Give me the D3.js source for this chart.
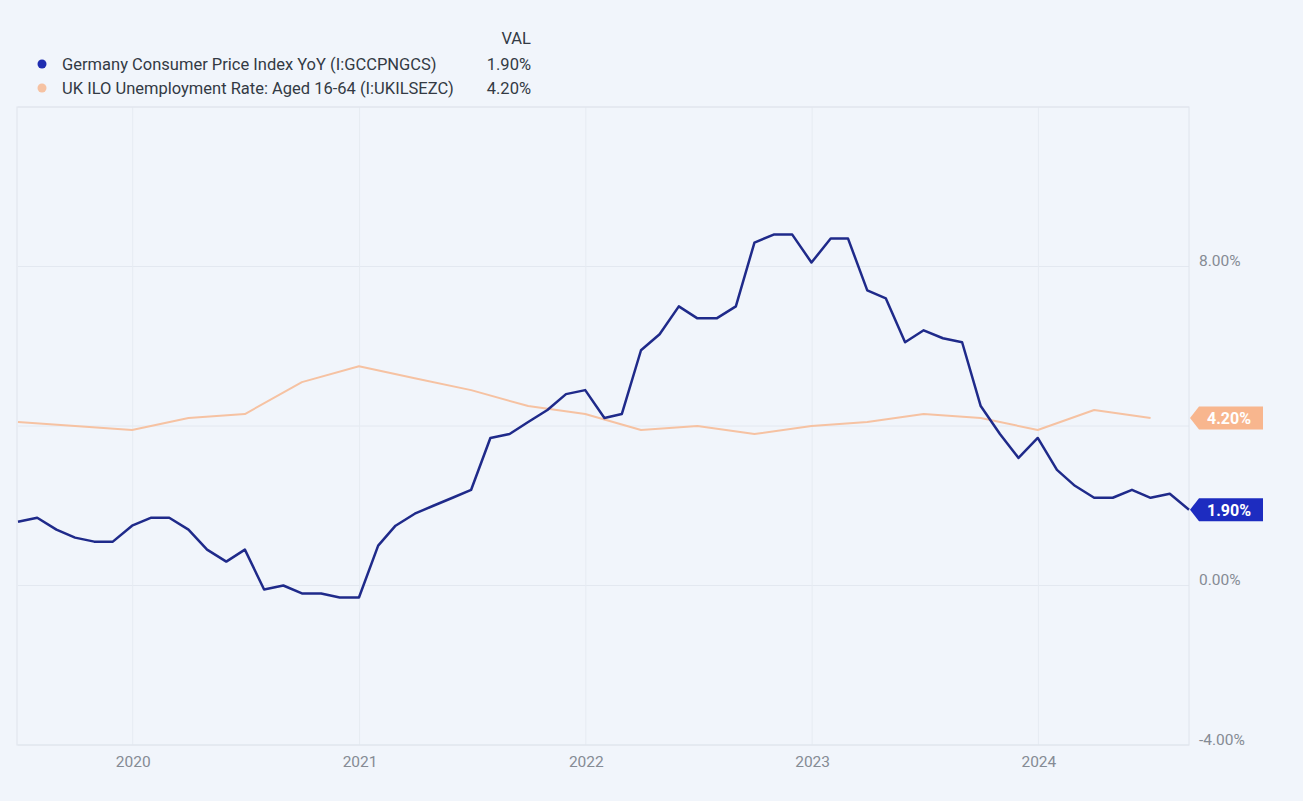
<!DOCTYPE html>
<html>
    <head>
        <meta charset="utf-8">
        <title></title>
        <script src="https://d3js.org/d3.v7.min.js"></script>
    </head>

    <body style="margin:0; background:#f1f5fb;">
        <svg id="chart" width="1303" height="801"></svg>
    </body>

    <script>

        // monthly german cpi, jun 2019 .. aug 2024 (month end)
        var deMonths = []
        for (var yy = 2019; yy <= 2024; yy++) {
            for (var mm = 1; mm <= 12; mm++) {
                var key = yy + "-" + (mm < 10 ? "0" + mm : mm)
                if (key >= "2019-06" && key <= "2024-08") deMonths.push(key)
            }
        }
        var deValues = [
            1.6, 1.7, 1.4, 1.2, 1.1, 1.1, 1.5,
            1.7, 1.7, 1.4, 0.9, 0.6, 0.9, -0.1, 0.0, -0.2, -0.2, -0.3, -0.3,
            1.0, 1.5, 1.8, 2.0, 2.2, 2.4, 3.7, 3.8, 4.1, 4.4, 4.8, 4.9,
            4.2, 4.3, 5.9, 6.3, 7.0, 6.7, 6.7, 7.0, 8.6, 8.8, 8.8, 8.1,
            8.7, 8.7, 7.4, 7.2, 6.1, 6.4, 6.2, 6.1, 4.5, 3.8, 3.2, 3.7,
            2.9, 2.5, 2.2, 2.2, 2.4, 2.2, 2.3, 1.9
        ]

        // quarterly uk unemployment 16-64
        var ukQuarters = [
            "2019-06", "2019-09", "2019-12",
            "2020-03", "2020-06", "2020-09", "2020-12",
            "2021-03", "2021-06", "2021-09", "2021-12",
            "2022-03", "2022-06", "2022-09", "2022-12",
            "2023-03", "2023-06", "2023-09", "2023-12",
            "2024-03", "2024-06"
        ]
        var ukValues = [
            4.1, 4.0, 3.9,
            4.2, 4.3, 5.1, 5.5,
            5.2, 4.9, 4.5, 4.3,
            3.9, 4.0, 3.8, 4.0,
            4.1, 4.3, 4.2, 3.9,
            4.4, 4.2
        ]

        var yTicks = [-4, 0, 4, 8, 12]
        // 4.00% label sits under the badge in the original, so it is not shown
        var yLabels = [-4, 0, 8]
        var yearTicks = [2020, 2021, 2022, 2023, 2024]
        var seriesNames = [
            "Germany Consumer Price Index YoY (I:GCCPNGCS)",
            "UK ILO Unemployment Rate: Aged 16-64 (I:UKILSEZC)"
        ]
        var seriesColors = ["#1f2a8a", "#f6c2a2"]
        var badgeColors = ["#1d2cc0", "#f8b68e"]

        var font = "Roboto, 'Noto Sans', sans-serif"

        function pct(d) {
            return d3.format(".2f")(d).replace("\u2212", "-") + "%"
        }

        // month string -> last day of that month
        function monthEnd(s) {
            var p = s.split("-")
            return d3.timeDay.offset(new Date(+p[0], +p[1], 1), -1)
        }

        var de = deMonths.map(function(m, i) { return { date: monthEnd(m), value: deValues[i] } })
        var uk = ukQuarters.map(function(m, i) { return { date: monthEnd(m), value: ukValues[i] } })

        var plot = { left: 18, right: 1189, top: 107, bottom: 745 }

        var svg = d3.select("#chart")

        svg.append("rect")
            .attr("width", 1303).attr("height", 801)
            .attr("fill", "#f1f5fb")

        var x = d3.scaleTime()
            .domain([de[0].date, de[de.length - 1].date])
            .range([plot.left, plot.right])

        var y = d3.scaleLinear()
            .domain([-4, 12])
            .range([plot.bottom, plot.top])

        // grid
        svg.append("g")
            .selectAll("line")
            .data(yTicks)
            .enter()
            .append("line")
            .attr("x1", plot.left).attr("x2", plot.right)
            .attr("y1", function(d) { return y(d) })
            .attr("y2", function(d) { return y(d) })
            .attr("stroke", "#e3e8f0")
            .attr("stroke-width", 1)

        svg.append("g")
            .selectAll("line")
            .data(yearTicks)
            .enter()
            .append("line")
            .attr("x1", function(d) { return x(new Date(d, 0, 1)) })
            .attr("x2", function(d) { return x(new Date(d, 0, 1)) })
            .attr("y1", plot.top).attr("y2", plot.bottom)
            .attr("stroke", "#e6ebf2")
            .attr("stroke-width", 1)

        // plot frame
        svg.append("rect")
            .attr("x", plot.left - 1).attr("y", plot.top)
            .attr("width", plot.right - plot.left + 1)
            .attr("height", plot.bottom - plot.top)
            .attr("fill", "none")
            .attr("stroke", "#dfe4ec")

        // right axis labels
        var yAxis = svg.append("g")
            .attr("transform", "translate(" + plot.right + ",0)")
            .call(d3.axisRight(y)
                .tickValues(yLabels)
                .tickSize(0)
                .tickPadding(10)
                .tickFormat(pct))
        yAxis.select(".domain").remove()
        yAxis.selectAll("text")
            .attr("dy", "-0.05em")
            .attr("fill", "#858b94")
            .style("font-family", font)
            .style("font-size", "15.5px")

        // bottom axis labels
        var xAxis = svg.append("g")
            .attr("transform", "translate(0," + plot.bottom + ")")
            .call(d3.axisBottom(x)
                .tickValues(yearTicks.map(function(d) { return new Date(d, 0, 1) }))
                .tickSize(0)
                .tickPadding(11)
                .tickFormat(d3.timeFormat("%Y")))
        xAxis.select(".domain").remove()
        xAxis.selectAll("text")
            .attr("fill", "#858b94")
            .style("font-family", font)
            .style("font-size", "15.5px")

        var line = d3.line()
            .x(function(d) { return x(d.date) })
            .y(function(d) { return y(d.value) })

        svg.append("path")
            .datum(uk)
            .attr("fill", "none")
            .attr("stroke", seriesColors[1])
            .attr("stroke-width", 2)
            .attr("stroke-linejoin", "round")
            .attr("d", line)

        svg.append("path")
            .datum(de)
            .attr("fill", "none")
            .attr("stroke", seriesColors[0])
            .attr("stroke-width", 2.5)
            .attr("stroke-linejoin", "round")
            .attr("d", line)

        // end value badges
        var lastVals = [de[de.length - 1].value, uk[uk.length - 1].value]
        var badges = svg.append("g")
            .selectAll("g")
            .data(lastVals)
            .enter()
            .append("g")
            .attr("transform", function(d) { return "translate(" + (plot.right + 1) + "," + y(d) + ")" })
        badges.append("path")
            .attr("d", "M0,0 L9,-11.5 L73,-11.5 L73,11.5 L9,11.5 Z")
            .attr("fill", function(d, i) { return badgeColors[i] })
        badges.append("text")
            .attr("x", 39)
            .attr("dy", "0.36em")
            .attr("text-anchor", "middle")
            .attr("fill", "#ffffff")
            .style("font-family", font)
            .style("font-size", "16px")
            .style("font-weight", "bold")
            .text(pct)

        // legend
        var legend = svg.append("g")
        legend.append("text")
            .attr("x", 531).attr("y", 38)
            .attr("dy", "0.35em")
            .attr("text-anchor", "end")
            .attr("fill", "#333a44")
            .style("font-family", font)
            .style("font-size", "16.5px")
            .text("VAL")

        var rows = legend.selectAll("g.row")
            .data(seriesNames)
            .enter()
            .append("g")
            .attr("class", "row")
            .attr("transform", function(d, i) { return "translate(0," + (64 + i * 24) + ")" })
        rows.append("circle")
            .attr("cx", 42).attr("cy", 0).attr("r", 4.5)
            .attr("fill", function(d, i) { return i == 0 ? "#1f2db0" : seriesColors[1] })
        rows.append("text")
            .attr("x", 62)
            .attr("dy", "0.35em")
            .attr("fill", "#333a44")
            .style("font-family", font)
            .style("font-size", "16.5px")
            .text(function(d) { return d })
        rows.append("text")
            .attr("x", 531)
            .attr("dy", "0.35em")
            .attr("text-anchor", "end")
            .attr("fill", "#333a44")
            .style("font-family", font)
            .style("font-size", "16.5px")
            .text(function(d, i) { return pct(lastVals[i]) })
    </script>
</html>
